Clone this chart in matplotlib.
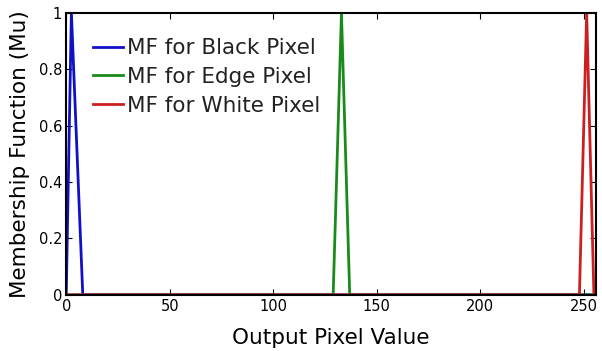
import numpy as np
import matplotlib.pyplot as plt

# Membership functions (triangular), defined over 0..255
black_x = [0, 2.5, 8, 255]
black_mu = [0, 1, 0, 0]
edge_x = [0, 129, 133, 137, 255]
edge_mu = [0, 0, 1, 0, 0]
white_x = [0, 248, 251.5, 255]
white_mu = [0, 0, 1, 0]

labels = ["MF for Black Pixel", "MF for Edge Pixel", "MF for White Pixel"]

fig = plt.figure(figsize=(6.02, 3.51), dpi=100)
ax = fig.add_axes([0.110, 0.160, 0.880, 0.803])

ax.plot(black_x, black_mu, color="#1010c8", linewidth=2, label=labels[0])
ax.plot(edge_x, edge_mu, color="#1a8a1a", linewidth=2, label=labels[1])
ax.plot(white_x, white_mu, color="#cc2020", linewidth=2, label=labels[2])

ax.set_xlim(0, 256)
ax.set_ylim(0, 1)
ax.set_xticks([0, 50, 100, 150, 200, 250])
ax.set_yticks([0, 0.2, 0.4, 0.6, 0.8, 1])
ax.set_yticklabels(["0", "0.2", "0.4", "0.6", "0.8", "1"])
ax.tick_params(direction="in", top=True, right=True, labelsize=10.5, length=4, pad=3)
for s in ax.spines.values():
    s.set_linewidth(1.5)

ax.set_xlabel("Output Pixel Value", fontsize=15.5, labelpad=10)
ax.set_ylabel("Membership Function (Mu)", fontsize=15.5, labelpad=6)

ax.legend(loc="upper left", frameon=False, fontsize=15.5, handlelength=1.4,
          handletextpad=0.2, borderaxespad=0.0, borderpad=0.0, labelspacing=0.4,
          bbox_to_anchor=(0.05, 0.91), labelcolor="#222222")

fig.savefig("out.png", dpi=100)
